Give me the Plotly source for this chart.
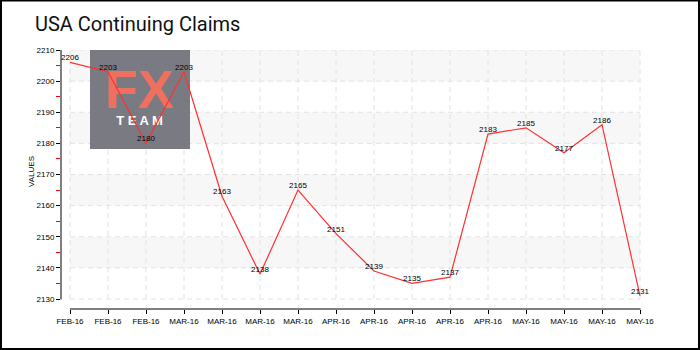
import plotly.graph_objects as go

# ---- data ----
x_labels = ["FEB-16", "FEB-16", "FEB-16", "MAR-16", "MAR-16", "MAR-16", "MAR-16", "APR-16",
            "APR-16", "APR-16", "APR-16", "APR-16", "MAY-16", "MAY-16", "MAY-16", "MAY-16"]
values = [2206, 2203, 2180, 2203, 2163, 2138, 2165, 2151, 2139, 2135, 2137, 2183, 2185, 2177, 2186, 2131]
y_ticks = [2130, 2140, 2150, 2160, 2170, 2180, 2190, 2200, 2210]
band_starts = [2140, 2160, 2180, 2200]
title_text = "USA Continuing Claims"
y_title = "VALUES"

# ---- geometry ----
W, H = 700, 350
L, R, T, B = 61, 59, 50, 41
PW, PH = W - L - R, H - T - B
xs = list(range(len(values)))
px_per_x = 38.0
px_per_y = 249.0 / 80.0
ymin, ymax = y_ticks[0], y_ticks[-1]
x_range = [-9 / px_per_x, xs[-1] + 1 / px_per_x]
y_range = [ymin - 10 / px_per_y, ymax]

def px_x(p):
    return (p - L) / PW

def px_y(p):
    return (H - B - p) / PH

def dx(p):  # pixel -> data x
    return (p - 70) / px_per_x

def dy(p):  # pixel -> data y
    return ymax - (p - 50) / px_per_y

tick_font = dict(family="Liberation Sans, DejaVu Sans, sans-serif", size=8, color="#000")
grid_col = "#e2e2e2"

fig = go.Figure()
# watermark text (drawn beneath the data line)
fig.add_trace(go.Scatter(
    x=[dx(139.5)], y=[dy(94)], mode="text", text=["<b>FX</b>"], textposition="middle center",
    textfont=dict(family="Liberation Sans, Arial, sans-serif", size=54, color="#f07060"),
    hoverinfo="skip", showlegend=False, cliponaxis=False,
))
fig.add_trace(go.Scatter(
    x=[dx(139.5)], y=[dy(122)], mode="text", text=["<b>T E A M</b>"], textposition="middle center",
    textfont=dict(family="Liberation Sans, Arial, sans-serif", size=13, color="#ffffff"),
    hoverinfo="skip", showlegend=False, cliponaxis=False,
))
fig.add_trace(go.Scatter(
    x=xs, y=values, mode="lines+text",
    text=[str(v) for v in values], textposition="top center",
    textfont=tick_font, cliponaxis=False,
    line=dict(color="#ff3030", width=1.2),
    hoverinfo="skip", showlegend=False,
))

shapes = []
for lo in band_starts:
    shapes.append(dict(type="rect", xref="x", yref="y", x0=xs[0], x1=xs[-1], y0=lo, y1=lo + 10,
                       fillcolor="#f7f7f7", line=dict(width=0), layer="below"))
for v in y_ticks:
    shapes.append(dict(type="line", xref="x", yref="y", x0=xs[0], x1=xs[-1], y0=v, y1=v,
                       line=dict(color=grid_col, width=1, dash="5px,4px"), layer="below"))
for i in xs:
    shapes.append(dict(type="line", xref="x", yref="y", x0=i, x1=i, y0=ymin, y1=ymax,
                       line=dict(color=grid_col, width=1, dash="5px,4px"), layer="below"))
# watermark box
shapes.append(dict(type="rect", xref="x", yref="y", x0=dx(90), x1=dx(190),
                   y0=dy(149), y1=dy(50), fillcolor="#6f6f78", opacity=0.92,
                   line=dict(width=0), layer="below"))
# axis lines
shapes.append(dict(type="line", xref="paper", yref="paper", x0=0, x1=0,
                   y0=px_y(299.5), y1=1, line=dict(color="#000", width=1)))
shapes.append(dict(type="line", xref="paper", yref="paper", x0=px_x(70), x1=px_x(640.5),
                   y0=0, y1=0, line=dict(color="#000", width=1)))
# outer frame
shapes.append(dict(type="rect", xref="paper", yref="paper", x0=px_x(1), x1=px_x(699),
                   y0=px_y(349), y1=px_y(0.5), line=dict(color="#000", width=2)))

annotations = [
    dict(text=title_text, xref="paper", yref="paper", x=px_x(33), y=px_y(24),
         xanchor="left", yanchor="middle", showarrow=False,
         font=dict(family="Roboto, sans-serif", size=20, color="#111")),
    dict(text=y_title, xref="paper", yref="paper", x=px_x(31), y=px_y(172),
         xanchor="center", yanchor="middle", textangle=-90, showarrow=False, font=tick_font),
]

fig.update_layout(
    width=W, height=H,
    margin=dict(l=L, r=R, t=T, b=B, pad=0),
    paper_bgcolor="#ffffff", plot_bgcolor="#ffffff",
    shapes=shapes, annotations=annotations,
    showlegend=False,
    xaxis=dict(range=x_range, tickvals=xs, ticktext=x_labels, ticks="outside", ticklen=4,
               tickcolor="#000", tickwidth=1, showgrid=False, zeroline=False, showline=False,
               tickfont=tick_font, fixedrange=True),
    yaxis=dict(range=y_range, tickvals=y_ticks, ticks="outside", ticklen=4, tickcolor="#000",
               tickwidth=1, showgrid=False, zeroline=False, showline=False, tickfont=tick_font,
               minor=dict(ticks="outside", ticklen=4, tickcolor="#ff0000", tick0=ymin, dtick=5,
                          showgrid=False),
               fixedrange=True),
)

fig.write_html("out.html")
